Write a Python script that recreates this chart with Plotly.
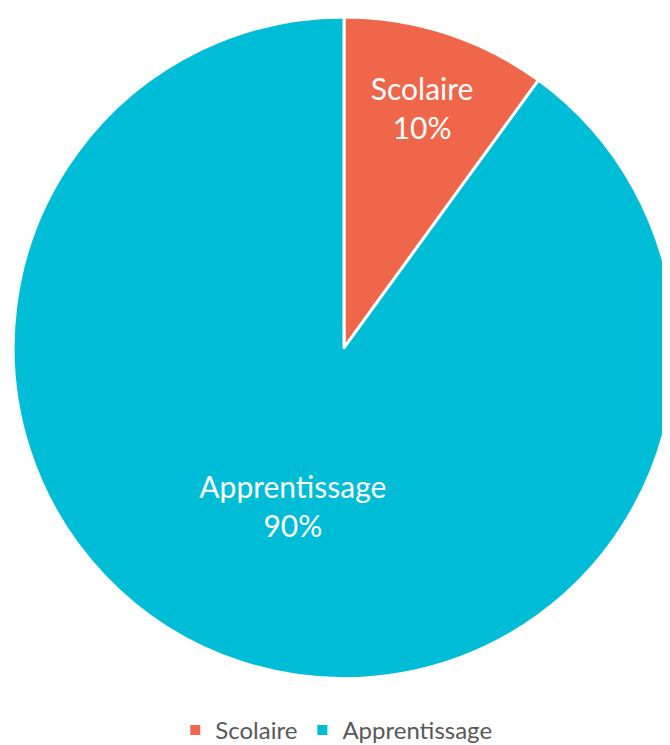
import plotly.graph_objects as go

labels = ["Scolaire", "Apprentissage"]
values = [10, 90]
colors = ["#F0664A", "#00BDD7"]

W, H = 670, 745
fig = go.Figure(go.Pie(
    labels=labels,
    values=values,
    sort=False,
    direction="clockwise",
    rotation=0,
    marker=dict(colors=colors, line=dict(color="white", width=3)),
    texttemplate="%{label}<br>%{percent:.0%}",
    textposition="inside",
    insidetextorientation="horizontal",
    textfont=dict(color="white", size=30, family="Lato"),
    hoverinfo="label+percent",
    domain=dict(x=[3 / W, 669 / W], y=[(H - 677) / H, (H - 9) / H]),
))
fig.update_layout(
    width=W, height=H,
    margin=dict(l=0, r=0, t=0, b=0),
    paper_bgcolor="white",
    showlegend=True,
    uniformtext=dict(minsize=30, mode="show"),
    legend=dict(orientation="h", x=0.49, xanchor="center", y=0.021, yanchor="middle",
                font=dict(size=24, color="#595959", family="Lato"),
                itemsizing="constant", traceorder="normal"),
)
fig.write_html("out.html")
